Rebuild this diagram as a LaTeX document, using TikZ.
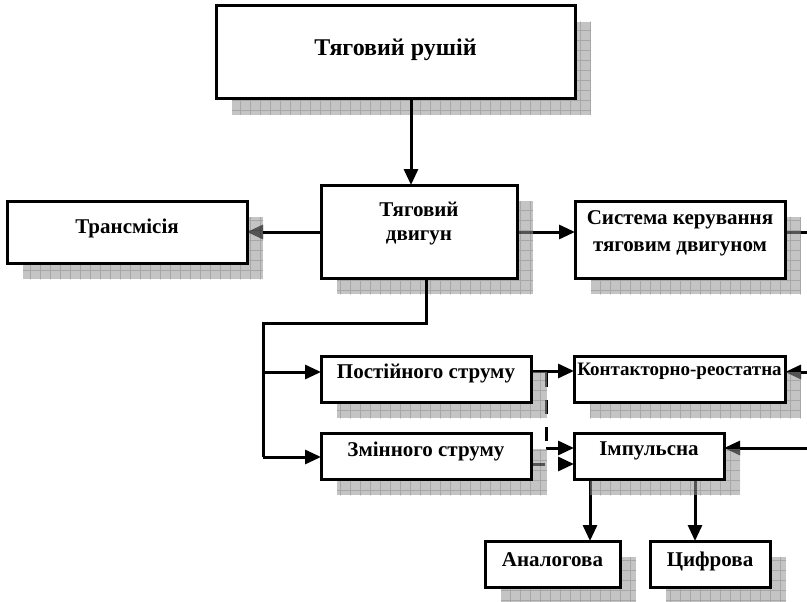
\documentclass[tikz,border=0pt]{standalone}
\usepackage{fontspec}
\setmainfont{Liberation Serif}
\usetikzlibrary{arrows.meta,calc}
\pgfdeclarelayer{under}\pgfdeclarelayer{shad}\pgfdeclarelayer{over}
\pgfsetlayers{under,shad,over,main}
\tikzset{
  box/.style={draw=black, line width=3pt, fill=white, inner sep=0pt, outer sep=0pt,
    font=\bfseries\fontsize{21}{24}\selectfont},
  conn/.style={line width=3pt, -{Triangle[length=16pt,width=14pt]}},
  plainline/.style={line width=3pt},
  dashline/.style={line width=3pt, dash pattern=on 14pt off 13pt},
  dashconn/.style={conn, dash pattern=on 14pt off 13pt},
  shadfill/.style={fill=black!41, opacity=0.56},
  shadgrid/.style={draw=black, opacity=0.15, line width=0.8pt},
}
\newcommand\mybox[8][]{%
  \node[box,#1, minimum width={#5pt-#3pt}, minimum height={#6pt-#4pt}] (#2)
    at ({(#3+#5)/2},{(#4+#6)/2}) {\raisebox{#7pt}[0pt][0pt]{#8}};}
\newcommand\myshadow[1]{%
  \begin{pgfonlayer}{shad}
    \begin{scope}
      \clip ($(#1.north west)+(16,16)$) rectangle ($(#1.south east)+(16,16)$);
      \path[shadfill] ($(#1.north west)+(16,16)$) rectangle ($(#1.south east)+(16,16)$);
      \draw[shadgrid, step=10pt] (0,0) grid (807,602);
    \end{scope}
  \end{pgfonlayer}}
\begin{document}
\begin{tikzpicture}[x=1pt,y=-1pt]
\useasboundingbox (0,0) rectangle (807,602);

\mybox[font=\bfseries\fontsize{24}{28}\selectfont]{top}{216}{6}{575}{99}{-2.5}{Тяговий рушій}
\mybox{transm}{7}{201}{247}{263}{-1}{Трансмісія}
\mybox{dvyg}{321}{185}{517}{278}{-9}{\begin{tabular}[b]{@{}c@{}}Тяговий\\двигун\end{tabular}}
\mybox{sys}{575}{201}{785}{278}{-12}{\begin{tabular}[b]{@{}c@{}}Система керування\\[2.7pt]тяговим двигуном\end{tabular}}
\mybox{post}{321}{356}{531}{402}{1}{Постійного струму}
\mybox{zmin}{321}{433}{531}{479}{-0.7}{Змінного струму}
\mybox[font=\bfseries\fontsize{19}{22}\selectfont]{kont}{574}{356}{785}{402}{4}{Контакторно-реостатна}
\mybox{imp}{574}{433}{724}{479}{1}{Імпульсна}
\mybox{analog}{485}{541}{620}{587}{-2.7}{Аналогова}
\mybox{cyfr}{650}{541}{770}{587}{-2.7}{Цифрова}

\foreach \n in {top,transm,dvyg,sys,post,zmin,kont,imp,analog,cyfr} {\myshadow{\n}}

\coordinate (eR1) at (807,232);
\coordinate (eR2) at (807,372);
\coordinate (eR3) at (807,448);
\coordinate (c411) at (411,0);
\coordinate (j1) at (426,323);
\coordinate (j2) at (263,323);
\coordinate (j3) at (263,372);
\coordinate (j4) at (263,457);
\coordinate (k1) at (546,371);
\coordinate (d1) at (546,373);
\coordinate (d2) at (546,441);
\coordinate (d3) at (546,448);
\coordinate (y464) at (0,464);
\coordinate (c590) at (590,0);
\coordinate (c695) at (695,0);

\begin{pgfonlayer}{under}
  \draw[conn] (eR1 -| dvyg.west) -- (eR1 -| transm.east);
  \draw[conn] (eR1 -| dvyg.east) -- (eR1 -| sys.west);
  \draw[plainline] (eR1 -| sys.east) -- (eR1);
  \draw[conn] (k1 -| post.east) -- (k1 -| kont.west);
  \draw[conn] (eR2) -- (eR2 -| kont.east);
  \draw[dashline] (d1) -- (d2);
  \draw[conn] (d3) -- (d3 -| imp.west);
  \draw[dashconn] (y464 -| zmin.east) -- (y464 -| imp.west);
  \draw[conn] (eR3) -- (eR3 -| imp.east);
  \draw[conn] (imp.south -| c590) -- (analog.north -| c590);
  \draw[conn] (imp.south -| c695) -- (cyfr.north -| c695);
\end{pgfonlayer}
\begin{pgfonlayer}{over}
  \draw[conn] (top.south -| c411) -- (dvyg.north -| c411);
  \draw[plainline, line join=miter] (dvyg.south -| j1) -- (j1) -- (j2) -- (j4);
  \draw[conn] (j4) -- (j4 -| zmin.west);
  \draw[conn] (j3) -- (j3 -| post.west);
\end{pgfonlayer}
\end{tikzpicture}
\end{document}
